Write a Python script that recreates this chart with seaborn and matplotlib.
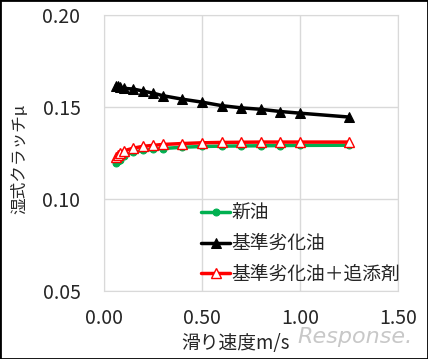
import numpy as np
import pandas as pd
import matplotlib
matplotlib.use("Agg")
import matplotlib.pyplot as plt
import seaborn as sns

sns.set_style("white")
plt.rcParams['font.family'] = ['Noto Sans CJK JP', 'DejaVu Sans']

speed = [0.06, 0.07, 0.08, 0.10, 0.15, 0.20, 0.25, 0.30, 0.40, 0.50, 0.60, 0.70, 0.80, 0.90, 1.00, 1.25]
new_oil = [0.1195, 0.1205, 0.1215, 0.1235, 0.1255, 0.1265, 0.1270, 0.1275, 0.1282, 0.1286, 0.1288, 0.1289, 0.1290, 0.1291, 0.1292, 0.1293]
aged_oil = [0.1615, 0.1612, 0.1608, 0.1602, 0.1598, 0.1587, 0.1576, 0.1562, 0.1543, 0.1527, 0.1508, 0.1496, 0.1488, 0.1476, 0.1467, 0.1446]
aged_add = [0.1228, 0.1238, 0.1248, 0.1262, 0.1277, 0.1287, 0.1292, 0.1297, 0.1302, 0.1306, 0.1308, 0.1309, 0.1310, 0.1310, 0.1310, 0.1310]
labels = ['新油', '基準劣化油', '基準劣化油＋追添剤']

df = pd.DataFrame({'speed': speed, 'new': new_oil, 'aged': aged_oil, 'add': aged_add})

fig = plt.figure(figsize=(4.28, 3.59), dpi=100)
ax = fig.add_axes([0.243, 0.189, 0.687, 0.769])

sns.lineplot(data=df, x='speed', y='new', ax=ax, color='#00B050', lw=2.5,
             marker='o', ms=5, mec='#00B050', label=labels[0])
sns.lineplot(data=df, x='speed', y='aged', ax=ax, color='black', lw=2.5,
             marker='^', ms=7, mec='black', label=labels[1])
sns.lineplot(data=df, x='speed', y='add', ax=ax, color='#FF0000', lw=2.5,
             marker='^', ms=7, mfc='white', mec='#FF0000', mew=1, label=labels[2])

ax.set_xlim(0, 1.5)
ax.set_ylim(0.05, 0.20)
ax.set_xticks([0, 0.5, 1.0, 1.5])
ax.set_yticks([0.05, 0.10, 0.15, 0.20])
ax.set_xticklabels(['0.00', '0.50', '1.00', '1.50'])
ax.set_yticklabels(['0.05', '0.10', '0.15', '0.20'])
ax.tick_params(labelsize=14, length=0)
ax.tick_params(axis='x', pad=12)
ax.tick_params(axis='y', pad=17)
ax.grid(True, color='#D9D9D9', lw=1)
for s in ax.spines.values():
    s.set_color('#D9D9D9')

ax.set_xlabel('滑り速度m/s', fontsize=13.5)
ax.set_ylabel('湿式クラッチμ', fontsize=12)
ax.xaxis.set_label_coords(0.449, -0.152)
ax.yaxis.set_label_coords(-0.258, 0.48)

leg = ax.legend(loc='upper left', bbox_to_anchor=(0.33, 0.32), frameon=False,
                fontsize=13.5, handlelength=1.55, handletextpad=0.05,
                labelspacing=0.5, borderaxespad=0, borderpad=0)

fig.text(0.83, 0.06, 'Response.', color='#C8C8C8', fontsize=16,
         style='italic', ha='center', va='center', family='DejaVu Sans')

fig.patches.append(plt.Rectangle((0, 0), 1, 1, transform=fig.transFigure,
                                 fill=False, ec='black', lw=2))
fig.savefig('out.png', dpi=100)
